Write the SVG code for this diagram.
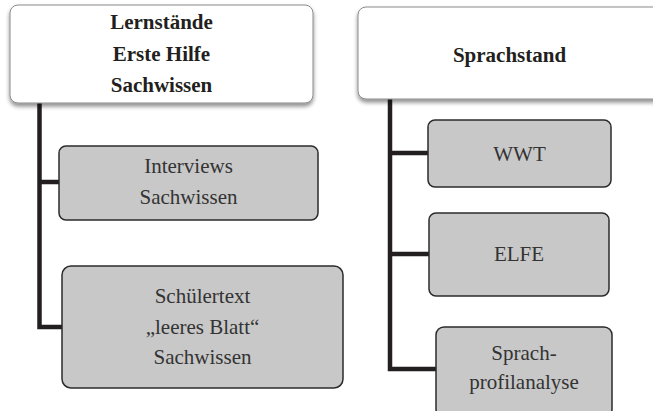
<svg xmlns="http://www.w3.org/2000/svg" width="653" height="411" viewBox="0 0 653 411">
<defs>
<filter id="sh" x="-5%" y="-10%" width="110%" height="130%">
<feGaussianBlur in="SourceAlpha" stdDeviation="2"/>
<feOffset dx="0" dy="3" result="b"/>
<feComponentTransfer><feFuncA type="linear" slope="0.45"/></feComponentTransfer>
<feMerge><feMergeNode/><feMergeNode in="SourceGraphic"/></feMerge>
</filter>
<style>
.top{fill:#fff;stroke:#8a8a8a;stroke-width:1}
.sub{fill:#c8c8c8;stroke:#2b2b2b;stroke-width:1.5}
.tb{font-family:"Liberation Serif",serif;font-weight:bold;font-size:21px;fill:#231f20;text-anchor:middle}
.tr{font-family:"Liberation Serif",serif;font-size:21px;fill:#333;text-anchor:middle}
.ln{fill:none;stroke:#231f20;stroke-width:4.5}
</style>
</defs>
<g id="connectors">
<path class="ln" d="M39.5 103 V327 H62 M39.5 182 H59"/>
<path class="ln" d="M390 99 V369 H436 M390 153 H428 M390 254 H429"/>
</g>
<g id="n-lernstaende">
<rect class="top" x="10" y="5" width="303" height="98" rx="8" filter="url(#sh)"/>
<text class="tb" x="161.5" y="29">Lernstände</text>
<text class="tb" x="161.5" y="61">Erste Hilfe</text>
<text class="tb" x="161.5" y="92">Sachwissen</text>
</g>
<g id="n-sprachstand">
<rect class="top" x="358" y="7" width="310" height="92" rx="8" filter="url(#sh)"/>
<text class="tb" x="509.5" y="62">Sprachstand</text>
</g>
<g id="n-interviews">
<rect class="sub" x="59" y="146" width="259" height="74" rx="7"/>
<text class="tr" x="188.5" y="173">Interviews</text>
<text class="tr" x="188.5" y="204">Sachwissen</text>
</g>
<g id="n-schuelertext">
<rect class="sub" x="62" y="266" width="281" height="122" rx="9"/>
<text class="tr" x="202.5" y="303">Schülertext</text>
<text class="tr" x="202.5" y="334">„leeres Blatt“</text>
<text class="tr" x="202.5" y="364">Sachwissen</text>
</g>
<g id="n-wwt">
<rect class="sub" x="428" y="120" width="183" height="67" rx="7"/>
<text class="tr" x="519.5" y="161">WWT</text>
</g>
<g id="n-elfe">
<rect class="sub" x="429" y="213" width="180" height="83" rx="7"/>
<text class="tr" x="519" y="261">ELFE</text>
</g>
<g id="n-sprachprofil">
<rect class="sub" x="436" y="327" width="176" height="90" rx="8"/>
<text class="tr" x="524" y="360">Sprach-</text>
<text class="tr" x="524" y="389">profilanalyse</text>
</g>
</svg>
